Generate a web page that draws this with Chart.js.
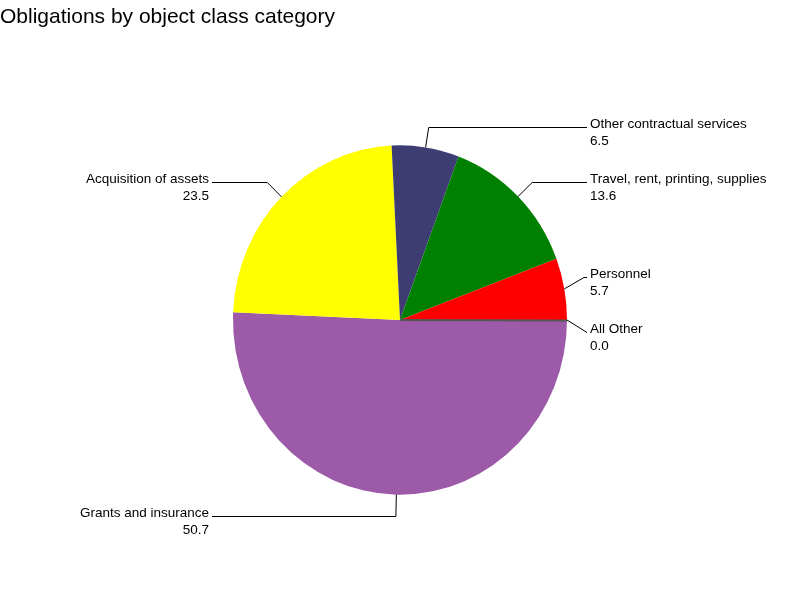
<!DOCTYPE html>
<html>
<head>
<meta charset="utf-8">
<script src="https://cdn.jsdelivr.net/npm/chart.js@4/dist/chart.umd.min.js"></script>
<style>
  html, body { margin: 0; padding: 0; background: #ffffff; }
  #wrap { width: 800px; height: 600px; }
</style>
</head>
<body>
<div id="wrap"><canvas id="c" width="800" height="600"></canvas></div>
<script>
// Data (clockwise from 3 o'clock)
const categories = ["Grants and insurance", "Acquisition of assets", "Other contractual services", "Travel, rent, printing, supplies", "Personnel", "All Other"];
const values = [50.7, 23.5, 6.5, 13.6, 5.7, 0.0];
const colors = ["#9C5AA8", "#FFFF00", "#3E3D73", "#008000", "#FF0000", "#555555"];
const titleText = "Obligations by object class category";

const SY = 1.046;        // vertical stretch of the pie
const LABEL_FONT = '13.5px "Liberation Sans", Arial, sans-serif';

const ellipsePlugin = {
  id: 'ellipse',
  beforeDatasetsDraw(chart) {
    const arc = chart.getDatasetMeta(0).data[0];
    const ctx = chart.ctx;
    ctx.save();
    ctx.translate(arc.x, arc.y);
    ctx.scale(1, SY);
    ctx.translate(-arc.x, -arc.y);
  },
  afterDatasetsDraw(chart) {
    chart.ctx.restore();
  }
};

const labelPlugin = {
  id: 'pieLabels',
  afterDraw(chart) {
    const ctx = chart.ctx;
    const meta = chart.getDatasetMeta(0);
    const items = [];
    meta.data.forEach((arc, i) => {
      const cx = arc.x, cy = arc.y, R = arc.outerRadius;
      const a = (arc.startAngle + arc.endAngle) / 2;
      const ex = cx + R * Math.cos(a), ey = cy + R * SY * Math.sin(a);
      const kx = cx + (R + 20) * Math.cos(a), ky = cy + (R + 20) * SY * Math.sin(a);
      items.push({ i, a, ex, ey, kx, ky, y: ky, right: Math.cos(a) >= 0, cx, cy, R });
      // zero-size slice: draw its edge line
      if (values[i] === 0) {
        ctx.save();
        ctx.strokeStyle = colors[i];
        ctx.lineWidth = 2;
        ctx.beginPath();
        ctx.moveTo(cx, cy);
        ctx.lineTo(cx + R * Math.cos(arc.startAngle), cy + R * SY * Math.sin(arc.startAngle) + 0.5);
        ctx.stroke();
        ctx.restore();
      }
    });
    // collision relaxation per side
    const GAP = 55;
    [true, false].forEach(side => {
      const s = items.filter(d => d.right === side).sort((p, q) => p.y - q.y);
      for (let it = 0; it < 50; it++) {
        for (let k = 0; k < s.length - 1; k++) {
          const d = s[k + 1].y - s[k].y;
          if (d < GAP) {
            const m = GAP - d;
            s[k].y -= m * 0.4; s[k + 1].y += m * 0.6;
          }
        }
      }
    });
    const cx = items[0].cx;
    const R = items[0].R;
    const rightText = cx + R + 23;
    const leftText = cx - R - 24;
    ctx.save();
    ctx.strokeStyle = '#000000';
    ctx.lineWidth = 1;
    ctx.fillStyle = '#000000';
    ctx.font = LABEL_FONT;
    items.forEach(d => {
      const y = Math.round(d.y) + 0.5;
      const lineEnd = d.right ? rightText - 3 : leftText + 3;
      ctx.beginPath();
      ctx.moveTo(d.ex, d.ey);
      ctx.lineTo(d.kx, y);
      ctx.lineTo(lineEnd, y);
      ctx.stroke();
      ctx.textBaseline = 'alphabetic';
      ctx.textAlign = d.right ? 'left' : 'right';
      const tx = d.right ? rightText : leftText;
      ctx.fillText(categories[d.i], tx, Math.round(d.y) + 1);
      ctx.fillText(values[d.i].toFixed(1), tx, Math.round(d.y) + 18);
    });
    ctx.restore();
  }
};

new Chart(document.getElementById('c'), {
  type: 'pie',
  data: {
    labels: categories,
    datasets: [{
      data: values,
      backgroundColor: colors,
      borderWidth: 0
    }]
  },
  options: {
    responsive: false,
    animation: false,
    rotation: 90,
    radius: 167,
    layout: { padding: 0 },
    plugins: {
      legend: { display: false },
      tooltip: { enabled: false },
      title: {
        display: true,
        text: titleText,
        align: 'start',
        color: '#000000',
        font: { family: '"Liberation Sans", Arial, sans-serif', size: 21, weight: 'normal', lineHeight: 1.2 },
        padding: { top: 5, bottom: 9.8 }
      }
    }
  },
  plugins: [ellipsePlugin, labelPlugin]
});
</script>
</body>
</html>
